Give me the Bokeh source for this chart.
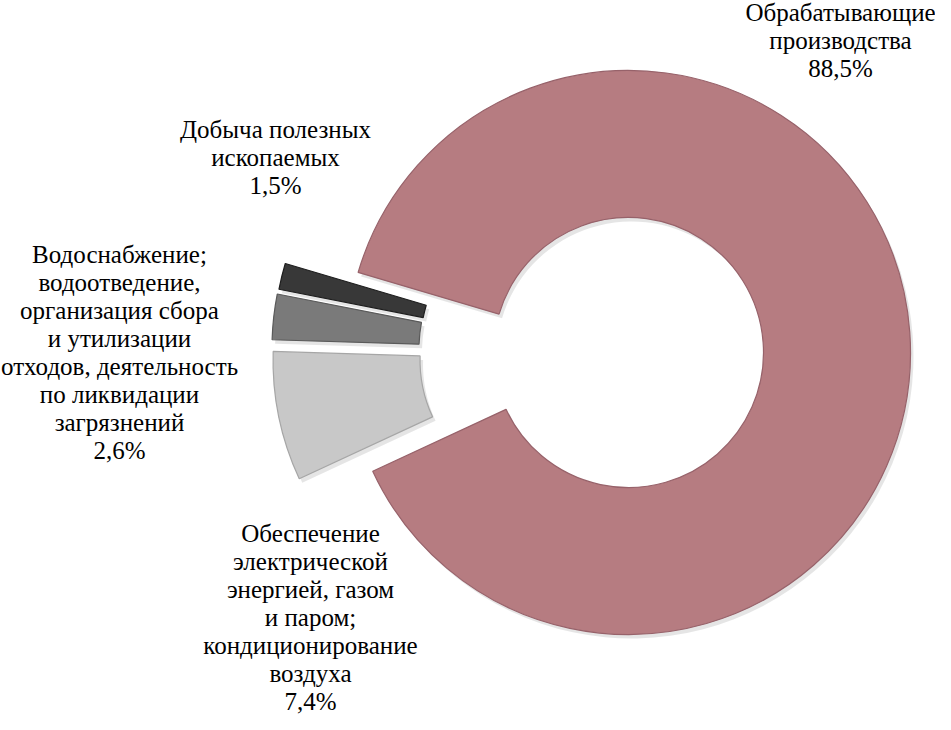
import numpy as np
from bokeh.plotting import figure
from bokeh.models import Range1d, ColumnDataSource
from bokeh.core.properties import value
from bokeh.embed import file_html
from bokeh.resources import INLINE

# ---- data ----
categories = [
    "Добыча полезных\nископаемых",
    "Обрабатывающие\nпроизводства",
    "Обеспечение\nэлектрической\nэнергией, газом\nи паром;\nкондиционирование\nвоздуха",
    "Водоснабжение;\nводоотведение,\nорганизация сбора\nи утилизации\nотходов, деятельность\nпо ликвидации\nзагрязнений",
]
shares = [1.5, 88.5, 7.4, 2.6]
share_labels = ["1,5%", "88,5%", "7,4%", "2,6%"]

# ---- style / layout ----
W, H = 935, 714
colors = ["#383838", "#B67C81", "#C8C8C8", "#7A7A7A"]
edge_colors = ["#1E1E1E", "#97626A", "#A6A6A6", "#5A5A5A"]
explode = [75, 0, 75, 75]          # px
cx, cy = 636, 730 - 360            # page pixel coords (y up)
r_out, r_in = 282, 135
first_angle = 168.9                # degrees, math convention, clockwise order

# label placement (centre x, first line y in page px), line spacing
label_pos = [(283, 137), (848, 20), (318, 541), (127, 262)]
line_gap = 28.0

p = figure(width=W, height=H, x_range=Range1d(8, 8 + W), y_range=Range1d(730 - 8 - H, 730 - 8),
           output_backend="svg", toolbar_location=None, x_axis_type=None, y_axis_type=None,
           min_border=0, tools="")
p.grid.visible = False
p.outline_line_color = None
p.background_fill_color = "white"
p.border_fill_color = "white"

vals = np.array(shares, dtype=float)
frac = vals / vals.sum()
ends = first_angle - np.cumsum(frac) * 360.0
starts = np.concatenate([[first_angle], ends[:-1]])
mids = (starts + ends) / 2.0
mid_r = np.radians(mids)
ex = np.array(explode, dtype=float)
dx = ex * np.cos(mid_r)
dy = ex * 0.5 * np.sin(mid_r)

src = ColumnDataSource(dict(
    x=cx + dx, y=cy + dy,
    sx=cx + dx + 3, sy=cy + dy - 4,
    start=np.radians(ends), end=np.radians(starts),
    color=colors, edge=edge_colors,
))

# soft shadow
p.annular_wedge(x="sx", y="sy", inner_radius=r_in, outer_radius=r_out,
                start_angle="start", end_angle="end", direction="anticlock",
                fill_color="#000000", fill_alpha=0.10, line_color=None, source=src)
p.annular_wedge(x="x", y="y", inner_radius=r_in, outer_radius=r_out,
                start_angle="start", end_angle="end", direction="anticlock",
                fill_color="color", line_color="edge", line_width=1.2, source=src)

# labels
tx, ty, tt = [], [], []
for (lx, ly), cat, lab in zip(label_pos, categories, share_labels):
    lines = cat.split("\n") + [lab]
    for i, ln in enumerate(lines):
        tx.append(lx)
        ty.append(730 - (ly + i * line_gap))
        tt.append(ln)
p.text(x=tx, y=ty, text=tt, text_font=value("Liberation Serif"), text_font_size="25px",
       text_align="center", text_baseline="middle", text_color="#000000")

open("out.html", "w").write(file_html(p, INLINE))
